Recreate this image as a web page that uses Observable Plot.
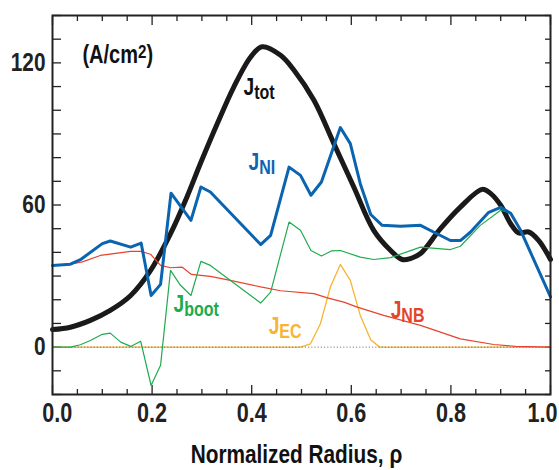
<!DOCTYPE html>
<html><head><meta charset="utf-8">
<script src="https://cdn.jsdelivr.net/npm/d3@7"></script>
<script src="https://cdn.jsdelivr.net/npm/@observablehq/plot@0.6"></script>
<style>body{margin:0;background:#fff}</style>
</head><body><div id="chart"></div>
<script>
// ---- data ----
const totRho = [0,0.036,0.076,0.116,0.157,0.197,0.237,0.27,0.297,0.331,0.364,0.398,0.421,0.458,0.485,0.525,0.565,0.605,0.645,0.679,0.702,0.72,0.739,0.779,0.819,0.863,0.88,0.9,0.92,0.936,0.956,0.976,1.0];
const totJ   = [7.4,8.4,11.3,15.5,21.8,32.4,47.9,63.4,77.5,94.4,109.8,122.5,126.8,123.2,116.9,104.2,85.9,67.6,49.3,40.8,37,37.5,39.5,50,59.1,66.6,64.8,59.9,52.1,48.2,48.6,45.1,37];

const niRho = [0,0.036,0.056,0.1,0.116,0.157,0.178,0.198,0.217,0.238,0.278,0.298,0.317,0.418,0.438,0.475,0.498,0.519,0.54,0.578,0.598,0.618,0.639,0.662,0.699,0.739,0.766,0.799,0.819,0.839,0.876,0.9,0.92,0.94,1.0];
const niJ   = [34.5,35,36.9,43.7,44.8,42.2,43.9,21.8,26.5,65,53.5,67.6,65.5,43.3,47.2,76,72.5,64.1,69.7,92.7,85.9,69,56,51.4,51,51.4,48.5,45,45,48.5,56.9,59,56.5,49.3,21.2];

const nbRho = [0,0.036,0.06,0.096,0.157,0.177,0.197,0.217,0.237,0.26,0.279,0.317,0.357,0.418,0.458,0.525,0.552,0.585,0.612,0.665,0.739,0.819,0.886,0.93,1.0];
const nbJ   = [34.5,35,36,38.7,40.4,40.4,39.2,34.5,33.5,33.8,30.7,29.9,28.2,25.4,23.8,22.6,20.8,19,16.9,13.4,9.2,3.5,1.1,0.3,0];

const bootRho = [0,0.036,0.056,0.076,0.1,0.116,0.137,0.157,0.177,0.198,0.217,0.237,0.257,0.278,0.298,0.317,0.418,0.438,0.475,0.498,0.519,0.54,0.56,0.578,0.618,0.645,0.679,0.739,0.799,0.819,0.859,0.9,0.92,0.94,1.0];
const bootJ   = [0,0,1,2.8,5.4,5.9,2.1,0.3,2.5,-16.2,-7.7,32.4,26.1,21.8,36.2,34.5,18.6,23.2,52.8,49.3,40.8,38.5,40.6,40.8,38,37,37.8,42.2,41.2,42.6,51.4,57.8,56.6,49.3,21.2];

const ecRho = [0,0.498,0.518,0.538,0.558,0.578,0.598,0.618,0.639,0.657,1.0];
const ecJ   = [0,0,1.4,9.9,25.4,34.9,28.2,13.4,3.1,0,0];

const xMajor = [0,0.2,0.4,0.6,0.8,1.0];
const xMinor = [0.05,0.1,0.15,0.25,0.3,0.35,0.45,0.5,0.55,0.65,0.7,0.75,0.85,0.9,0.95];
const yMajor = [0,60,120];
const yMinor = [-20,-10,10,20,30,40,50,70,80,90,100,110,130,140];

const labelX = [0.06,0.3835,0.3936,0.243,0.434,0.679];
const labelY = [119.9,106.3,74.6,14.7,5.4,12.1];
const labelT = ["(A/cm^2)","J_tot","J_NI","J_boot","J_EC","J_NB"];
const labelC = ["#111","#111","#0d64b0","#1eaa4c","#f8b430","#e2452b"];
const xTitle = "Normalized Radius, ρ";

// ---- tables ----
const zip = (xs, ys) => xs.map((x, i) => ({rho: x, J: ys[i]}));
const tot = zip(totRho, totJ), ni = zip(niRho, niJ), nb = zip(nbRho, nbJ), boot = zip(bootRho, bootJ), ec = zip(ecRho, ecJ);
const labels = labelT.map((t, i) => ({x: labelX[i], y: labelY[i], t, c: labelC[i], fs: i === 0 ? 25 : 24}));

const FONT = "'Liberation Sans',Arial,Helvetica,sans-serif";
const blank = () => "";

const plot = Plot.plot({
  width: 559, height: 470,
  marginLeft: 52, marginRight: 9, marginTop: 15, marginBottom: 76,
  style: {fontFamily: FONT, fontWeight: "bold", background: "#fff", color: "#222"},
  x: {domain: [0, 1]},
  y: {domain: [-20, 140]},
  marks: [
    Plot.axisX({anchor: "bottom", ticks: xMajor, tickSize: 0, tickPadding: 8, tickFormat: d3.format(".1f"), fontSize: 27, label: null}),
    Plot.axisX({anchor: "bottom", ticks: xMajor, tickSize: -9, tickFormat: blank, label: null, strokeWidth: 1.3}),
    Plot.axisX({anchor: "bottom", ticks: xMinor, tickSize: -5, tickFormat: blank, label: null, strokeWidth: 1.3}),
    Plot.axisX({anchor: "top", ticks: xMajor, tickSize: -9, tickFormat: blank, label: null, strokeWidth: 1.3}),
    Plot.axisX({anchor: "top", ticks: xMinor, tickSize: -5, tickFormat: blank, label: null, strokeWidth: 1.3}),
    Plot.axisY({anchor: "left", ticks: yMajor, tickSize: 0, tickPadding: 7, fontSize: 26, label: null}),
    Plot.axisY({anchor: "left", ticks: yMajor.concat(yMinor), tickSize: -9, tickFormat: blank, label: null, strokeWidth: 1.3}),
    Plot.axisY({anchor: "right", ticks: yMajor.concat(yMinor), tickSize: -6, tickFormat: blank, label: null, strokeWidth: 1.3}),
    Plot.line(ec, {x: "rho", y: "J", stroke: "#f8b430", strokeWidth: 1.3}),
    Plot.ruleY([0], {stroke: "#444", strokeWidth: 1, strokeDasharray: "1.2,2", strokeOpacity: 0.7}),
    Plot.line(tot, {x: "rho", y: "J", stroke: "#1a1a1a", strokeWidth: 5, curve: "catmull-rom"}),
    Plot.line(nb, {x: "rho", y: "J", stroke: "#e8432c", strokeWidth: 1.2}),
    Plot.line(boot, {x: "rho", y: "J", stroke: "#1fab50", strokeWidth: 1.2}),
    Plot.line(ni, {x: "rho", y: "J", stroke: "#0a64b0", strokeWidth: 3}),
    Plot.frame({stroke: "#222", strokeWidth: 2}),
    Plot.text(labels, {x: "x", y: "y", text: "t", fill: "c", fontSize: "fs", textAnchor: "start", lineAnchor: "bottom"}),
    Plot.text([xTitle], {frameAnchor: "bottom", dy: 50, dx: -5, lineAnchor: "top", fontSize: 26, fill: "#111"})
  ]
});

// rich text: "_xxx" subscript, "^x" superscript
d3.select(plot).selectAll("text").each(function () {
  const s = this.textContent;
  if (!/[_^]/.test(s)) return;
  const parts = s.split(/([_^][A-Za-z0-9]+)/).filter(p => p.length);
  this.textContent = "";
  let shift = 0;
  for (const p of parts) {
    const ts = document.createElementNS("http://www.w3.org/2000/svg", "tspan");
    let target = 0;
    if (p[0] === "_") { ts.textContent = p.slice(1); ts.setAttribute("font-size", 20); target = 4; }
    else if (p[0] === "^") { ts.textContent = p.slice(1); ts.setAttribute("font-size", 19); target = -5; }
    else { ts.textContent = p; }
    ts.setAttribute("dy", target - shift);
    shift = target;
    this.appendChild(ts);
  }
});

// end tick labels are nudged inward as in the reference
d3.select(plot).selectAll("text").each(function () {
  if (this.textContent === "1.0") this.setAttribute("dx", -10);
  if (this.textContent === "0.0") this.setAttribute("dx", 6);
});

// condense all text horizontally (Helvetica Condensed look)
d3.select(plot).selectAll("text").each(function () {
  const t = this.getAttribute("transform");
  if (t) this.setAttribute("transform", t + " scale(0.8,1)");
  else {
    const x = +this.getAttribute("x") || 0;
    this.setAttribute("transform", `translate(${x},0) scale(0.8,1) translate(${-x},0)`);
  }
});

document.getElementById("chart").appendChild(plot);
</script>
</body></html>
